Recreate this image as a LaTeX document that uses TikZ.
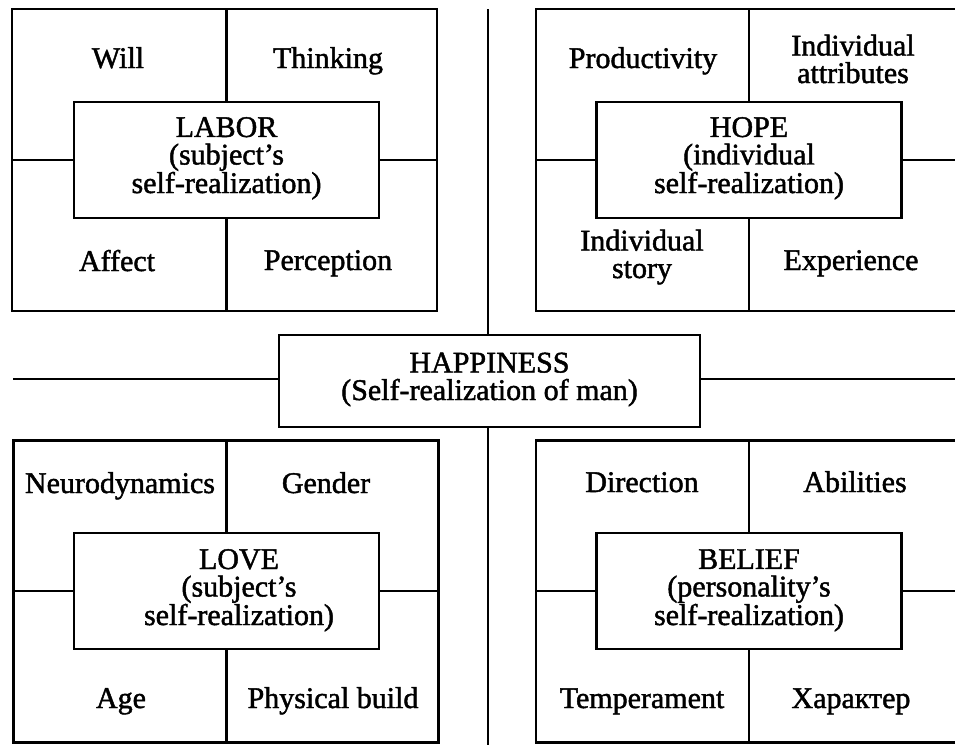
\documentclass[tikz,border=0pt]{standalone}
\usepackage{fontspec}
\setmainfont{Liberation Serif}[FakeBold=1.5]
\begin{document}
\begin{tikzpicture}[x=1pt,y=-1pt,
  frame/.style={draw,line width=2.6pt,rectangle,inner sep=0pt},
  outerbox/.style={frame,minimum width=425pt,minimum height=302pt},
  innerbox/.style={frame,minimum width=305pt,minimum height=116pt,fill=white},
  lbl/.style={font=\fontsize{30}{27.5}\selectfont,align=center,inner sep=0pt,anchor=base},
  wire/.style={line width=2.6pt}]
\clip (0,0) rectangle (955,745);
\fill[white] (0,0) rectangle (955,745);

% ---- top left ----
\node[outerbox] (TL) at (224.5,160) {};
\node[innerbox] (LABOR) at (226.5,160) {};
\node[lbl] (LABORt) at (226.5,193) {LABOR\\(subject’s\\self-realization)};
\draw[wire] (LABOR.north) -- (LABOR.north |- TL.north);
\draw[wire] (LABOR.south) -- (LABOR.south |- TL.south);
\draw[wire] (LABOR.west) -- (LABOR.west -| TL.west);
\draw[wire] (LABOR.east) -- (LABOR.east -| TL.east);
\node[lbl] (will) at (118,68) {Will};
\node[lbl] (think) at (328,68) {Thinking};
\node[lbl] (affect) at (117,271) {Affect};
\node[lbl] (perc) at (328,270) {Perception};

% ---- top right ----
\node[outerbox] (TR) at (748.5,160) {};
\node[innerbox] (HOPE) at (749,160) {};
\node[lbl] (HOPEt) at (749,193) {HOPE\\(individual\\self-realization)};
\draw[wire] (HOPE.north) -- (HOPE.north |- TR.north);
\draw[wire] (HOPE.south) -- (HOPE.south |- TR.south);
\draw[wire] (HOPE.west) -- (HOPE.west -| TR.west);
\draw[wire] (HOPE.east) -- (HOPE.east -| TR.east);
\node[lbl] (prod) at (643,68) {Productivity};
\node[lbl] (indattr) at (853,83) {Individual\\attributes};
\node[lbl] (indstory) at (642,278) {Individual\\story};
\node[lbl] (exper) at (851,270) {Experience};

% ---- bottom left ----
\node[outerbox] (BL) at (226,591.5) {};
\node[innerbox] (LOVE) at (226.5,591) {};
\node[lbl] (LOVEt) at (239,625) {LOVE\\(subject’s\\self-realization)};
\draw[wire] (LOVE.north) -- (LOVE.north |- BL.north);
\draw[wire] (LOVE.south) -- (LOVE.south |- BL.south);
\draw[wire] (LOVE.west) -- (LOVE.west -| BL.west);
\draw[wire] (LOVE.east) -- (LOVE.east -| BL.east);
\node[lbl] (neuro) at (120,493) {Neurodynamics};
\node[lbl] (gender) at (326,493) {Gender};
\node[lbl] (age) at (121,708) {Age};
\node[lbl] (phys) at (333,708) {Physical build};

% ---- bottom right ----
\node[outerbox] (BR) at (748.5,591.5) {};
\node[innerbox] (BELIEF) at (749,591) {};
\node[lbl] (BELIEFt) at (749,625) {BELIEF\\(personality’s\\self-realization)};
\draw[wire] (BELIEF.north) -- (BELIEF.north |- BR.north);
\draw[wire] (BELIEF.south) -- (BELIEF.south |- BR.south);
\draw[wire] (BELIEF.west) -- (BELIEF.west -| BR.west);
\draw[wire] (BELIEF.east) -- (BELIEF.east -| BR.east);
\node[lbl] (dir) at (642,492) {Direction};
\node[lbl] (abil) at (855,492) {Abilities};
\node[lbl] (temp) at (642,708) {Temperament};
\node[lbl] (char) at (851,708) {Характер};

% ---- centre ----
\node[frame,minimum width=421pt,minimum height=92pt] (HAPP) at (489.5,381) {};
\node[lbl] (HAPPt) at (489.5,400) {HAPPINESS\\(Self-realization of man)};
\coordinate (vtop) at (488,9);
\coordinate (vbot) at (488,745);
\coordinate (hleft) at (13,379);
\coordinate (hright) at (955,379);
\draw[wire] (HAPP.north -| vtop) -- (vtop);
\draw[wire] (HAPP.south -| vbot) -- (vbot);
\draw[wire] (HAPP.west |- hleft) -- (hleft);
\draw[wire] (HAPP.east |- hright) -- (hright);
\end{tikzpicture}
\end{document}
